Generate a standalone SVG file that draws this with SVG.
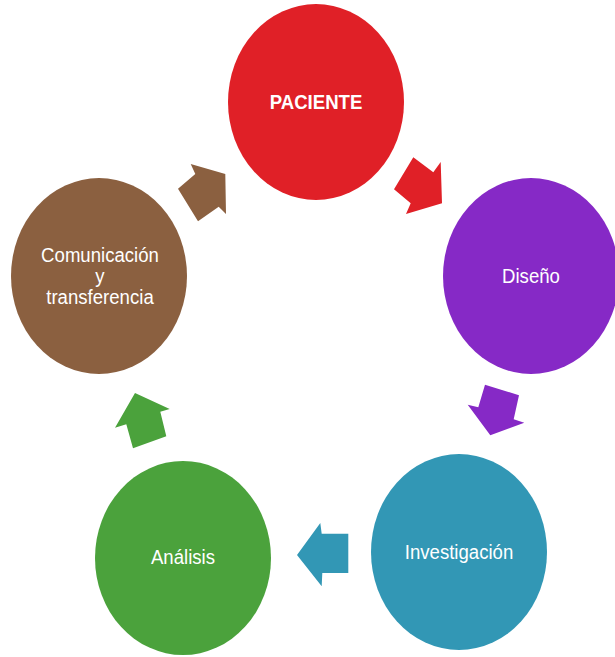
<svg xmlns="http://www.w3.org/2000/svg" width="615" height="657" viewBox="0 0 615 657">
<style>
.lbl{font-family:"Liberation Sans",Arial,sans-serif;font-size:18.6px;fill:#ffffff;text-anchor:middle}
.b{font-weight:bold}
</style>
<rect width="615" height="657" fill="#ffffff"/>
<g id="connectors">
<polygon fill="#E02027" points="413.3,157.3 433.3,172.3 440.7,162 442,203.3 406,214 410.7,203.3 394,189.3"/>
<polygon fill="#8629C6" points="485,384.7 519,395.3 513.7,419.3 524.3,422.7 490.3,435.3 467.7,404.7 478.3,407.3"/>
<polygon fill="#3297B5" points="320.3,523 321.7,533.7 348.3,533.7 348.3,573 322.3,573 321.7,586.3 297,555"/>
<polygon fill="#4BA23C" points="135,393 169.7,409 160.3,411.7 166.3,436.3 133,448.3 126.3,424.3 115,427.7"/>
<polygon fill="#8B6040" points="190.7,164 225.3,174 226,214 218.7,206.7 198,221.3 178,188.7 195.3,174"/>
</g>
<g id="paciente">
<ellipse cx="316" cy="102" rx="88" ry="98" fill="#E02027"/>
<text class="lbl b" transform="translate(316,109) scale(1,1.12)" x="0" y="0">PACIENTE</text>
</g>
<g id="diseno">
<ellipse cx="531" cy="276" rx="88" ry="98" fill="#8629C6"/>
<text class="lbl" transform="translate(531,283) scale(1,1.12)" x="0" y="0">Diseño</text>
</g>
<g id="investigacion">
<ellipse cx="459" cy="552" rx="88" ry="98" fill="#3297B5"/>
<text class="lbl" transform="translate(459,559) scale(1,1.12)" x="0" y="0">Investigación</text>
</g>
<g id="analisis">
<ellipse cx="183" cy="558" rx="88" ry="97" fill="#4BA23C"/>
<text class="lbl" transform="translate(183,564) scale(1,1.12)" x="0" y="0">Análisis</text>
</g>
<g id="comunicacion">
<ellipse cx="99" cy="276" rx="88" ry="98" fill="#8B6040"/>
<text class="lbl" transform="translate(100,262) scale(1,1.12)" x="0" y="0">Comunicación</text>
<text class="lbl" transform="translate(100,283) scale(1,1.12)" x="0" y="0">y</text>
<text class="lbl" transform="translate(100,304) scale(1,1.12)" x="0" y="0">transferencia</text>
</g>
</svg>
